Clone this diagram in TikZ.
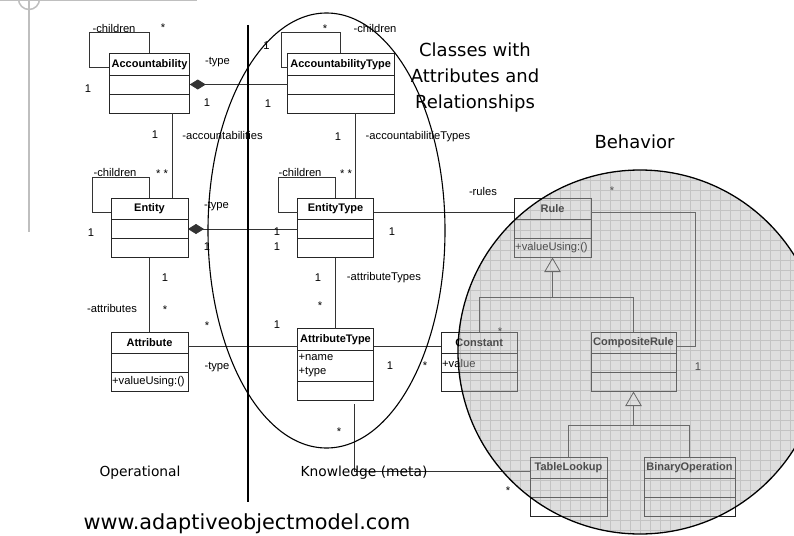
\documentclass[tikz,border=0pt]{standalone}
\usepackage{fontspec}
\setmainfont{Liberation Sans}
\newfontfamily\bigfont{DejaVu Sans}
\usetikzlibrary{arrows.meta,positioning}

\tikzset{
  classhead/.style={draw=black!85, line width=0.9pt, inner sep=0pt, outer sep=0pt,
    minimum height=21.5pt, font=\fontsize{11}{13}\selectfont\bfseries},
  classpart/.style={draw=black!85, line width=0.9pt, inner sep=0pt, outer sep=0pt,
    minimum height=19pt},
  member/.style={inner sep=1pt, align=left, font=\fontsize{11.2}{14.4}\selectfont},
  lbl/.style={inner sep=0pt, font=\fontsize{11.2}{13}\selectfont},
  assoc/.style={draw=black!80, line width=0.8pt},
  bigtext/.style={inner sep=0pt, font=\bigfont\fontsize{18}{26}\selectfont},
}

% name, x, y (top left), width, middle height, title, attributes, operations
\newcommand{\umlclass}[8]{%
  \node[classhead, minimum width=#4pt, anchor=north west] (#1) at (#2,#3) {#6};
  \node[classpart, minimum width=#4pt, minimum height=#5pt, anchor=north west] (#1-a) at (#1.south west) {};
  \node[classpart, minimum width=#4pt, anchor=north west] (#1-o) at (#1-a.south west) {};
  \node[member, anchor=west] (#1-at) at (#1-a.west) {#7};
  \node[member, anchor=west] (#1-op) at (#1-o.west) {#8};
}

\begin{document}
\begin{tikzpicture}[x=1pt,y=-1pt]
\useasboundingbox (0,0) rectangle (794,535);

% slide corner
\draw[black!25, line width=1.5pt] (0,0.5) -- (197,0.5);
\draw[black!25, line width=1.5pt] (29,-1) circle [radius=10.5pt];
\draw[black!25, line width=2.2pt] (29,0) -- (29,232);

% grid paper of the behavior circle
\begin{scope}
  \clip (640,352) circle [radius=182pt];
  \foreach \gx in {450,460,...,820} \draw[black!18, line width=0.5pt] (\gx,165) -- (\gx,540);
  \foreach \gy in {170,180,...,540} \draw[black!18, line width=0.5pt] (450,\gy) -- (830,\gy);
\end{scope}

% classes
\umlclass{Accountability}{109.25}{53.5}{80.5}{19}{Accountability}{}{}
\umlclass{AccountabilityType}{287.5}{53.5}{106.5}{19}{AccountabilityType}{}{}
\umlclass{Entity}{111}{198}{77}{19}{Entity}{}{}
\umlclass{EntityType}{297.5}{198}{76}{19}{EntityType}{}{}
\umlclass{Attribute}{111}{332}{77}{19}{Attribute}{}{+valueUsing:()}
\umlclass{AttributeType}{297.5}{328.5}{76}{31}{AttributeType}{+name\\+type}{}
\umlclass{Rule}{514}{198}{77}{19}{Rule}{}{+valueUsing:()}
\umlclass{Constant}{441}{332}{76.5}{19}{Constant}{+value}{}
\umlclass{CompositeRule}{591}{332}{85}{19}{CompositeRule}{}{}
\umlclass{TableLookup}{530}{457}{77}{19}{TableLookup}{}{}
\umlclass{BinaryOperation}{644}{457}{91}{19}{BinaryOperation}{}{}

% children loops
\draw[assoc] ([yshift=-3.5pt]Accountability.west) -- ++(-19.5,0) -- ++(0,-35) -| (Accountability.north);
\draw[assoc] ([yshift=-3.5pt]AccountabilityType.west) -- ++(-6,0) -- ++(0,-35) -| (AccountabilityType.north);
\draw[assoc] ([yshift=-3.5pt]Entity.west) -- ++(-18.5,0) -- ++(0,-35) -| (Entity.north);
\draw[assoc] ([yshift=-3.5pt]EntityType.west) -- ++(-19.2,0) -- ++(0,-35) -| (EntityType.north);

% associations
\draw[assoc, {Diamond[length=16pt,width=10pt]}-] (Accountability-a.east) -- (AccountabilityType-a.west);
\draw[assoc, {Diamond[length=16pt,width=10pt]}-] (Entity-a.east) -- (EntityType-a.west);
\draw[assoc] ([xshift=22.5pt]Accountability-o.south) -- ([xshift=22.5pt]Entity.north);
\draw[assoc] ([xshift=14.25pt]AccountabilityType-o.south) -- ([xshift=19.5pt]EntityType.north);
\draw[assoc] (Entity-o.south) -- (Attribute.north);
\draw[assoc] (EntityType-o.south) -- (AttributeType.north);
\draw[assoc] ([yshift=-3.75pt]Attribute.east) -- ([yshift=-7.25pt]AttributeType.west);
\draw[assoc] ([yshift=-7.25pt]AttributeType.east) -- ([yshift=-3.75pt]Constant.west);
\draw[assoc] ([yshift=-4pt]EntityType.east) -- ([yshift=-4pt]Rule.west);
\draw[assoc] ([yshift=-4pt]Rule.east) -- ++(104,0) |- ([yshift=-4pt]CompositeRule.east);
\draw[assoc] ([xshift=19pt,yshift=-4pt]AttributeType-o.south) |- ([yshift=-4pt]TableLookup.west);

% generalizations
\coordinate[below=40pt of Rule-o.south] (g1);
\draw[assoc] (Constant.north) |- (g1) -| (CompositeRule.north);
\draw[assoc, -{Triangle[open,length=14.5pt,width=16.5pt]}] (g1) -- (Rule-o.south);
\coordinate[below=34pt of CompositeRule-o.south] (g2);
\draw[assoc] (TableLookup.north) |- (g2) -| (BinaryOperation.north);
\draw[assoc, -{Triangle[open,length=14.5pt,width=16.5pt]}] (g2) -- (CompositeRule-o.south);

% role names and multiplicities
\path (114,28) node[lbl] (c1) {-children};
\path (163,27.5) node[lbl] (s1) {*};
\path (88,89) node[lbl] (n1) {1};
\path (217.5,62) node[lbl] (t1) {-type};
\path (207,103) node[lbl] (n2) {1};
\path (155,135) node[lbl] (n3) {1};
\path (222.5,135) node[lbl] (r1) {-accountabilities};
\path (162,173.5) node[lbl] (s2) {* *};
\path (266.5,46) node[lbl] (n4) {1};
\path (268,103.5) node[lbl] (n5) {1};
\path (325,28.5) node[lbl] (s3) {*};
\path (375,28.5) node[lbl] (c2) {-children};
\path (338,137) node[lbl] (n6) {1};
\path (418,137) node[lbl] (r2) {-accountabilitieTypes};
\path (346,173.5) node[lbl] (s4) {* *};
\path (115,172) node[lbl] (c3) {-children};
\path (91,233) node[lbl] (n7) {1};
\path (216.5,206) node[lbl] (t2) {-type};
\path (207,247) node[lbl] (n8) {1};
\path (165,278) node[lbl] (n9) {1};
\path (165,309.5) node[lbl] (s5) {*};
\path (112,308) node[lbl] (r3) {-attributes};
\path (300,172) node[lbl] (c4) {-children};
\path (277,232) node[lbl] (n10) {1};
\path (277,247) node[lbl] (n11) {1};
\path (392,232) node[lbl] (n12) {1};
\path (483,191) node[lbl] (r4) {-rules};
\path (318,278) node[lbl] (n13) {1};
\path (384,278) node[lbl] (r5) {-attributeTypes};
\path (320,305.5) node[lbl] (s6) {*};
\path (207,325.5) node[lbl] (s7) {*};
\path (277,325) node[lbl] (n14) {1};
\path (217,367) node[lbl] (t3) {-type};
\path (390,366) node[lbl] (n15) {1};
\path (425,365.5) node[lbl] (s8) {*};
\path (339,431.5) node[lbl] (s9) {*};
\path (508,490.5) node[lbl] (s10) {*};
\path (612,190.5) node[lbl] (s11) {*};
\path (698,367) node[lbl] (n16) {1};
\path (500,331.5) node[lbl] (s12) {*};

% separator and groups
\draw[line width=2pt] (248,25) -- (248,502);
\draw[line width=1.1pt] (326.5,230.5) ellipse [x radius=118.5pt, y radius=217.5pt];

\fill[black!30, opacity=0.43] (640,352) circle [radius=182pt];
\draw[line width=1.3pt] (640,352) circle [radius=182pt];

% titles
\node[bigtext, align=center] (classes) at (475,77.5) {Classes with\\Attributes and\\Relationships};
\node[bigtext, anchor=base] (behavior) at (634.5,148.3) {Behavior};
\node[bigtext, anchor=base, font=\bigfont\fontsize{13.8}{16}\selectfont] (oper) at (140,476.5) {Operational};
\node[bigtext, anchor=base, font=\bigfont\fontsize{13.8}{16}\selectfont] (know) at (364,476.5) {Knowledge (meta)};
\node[bigtext, anchor=base, font=\bigfont\fontsize{20.8}{24}\selectfont] (site) at (247,529) {www.adaptiveobjectmodel.com};
\end{tikzpicture}
\end{document}
